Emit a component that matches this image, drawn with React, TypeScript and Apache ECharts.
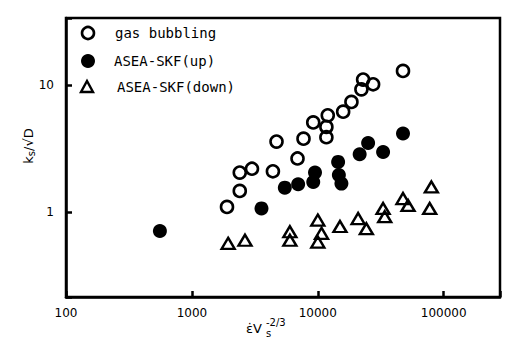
import React, { useEffect, useRef } from 'react';
import * as echarts from 'echarts';

const xTickLabels = ['100', '1000', '10000', '100000'];
const yTickLabels = ['1', '10'];

const seriesNames = ['gas bubbling', 'ASEA-SKF(up)', 'ASEA-SKF(down)'];

const gasBubbling: [number, number][] = [
  [1900, 1.1], [2400, 1.47], [2400, 2.05], [3000, 2.2], [4400, 2.1],
  [4700, 3.6], [6900, 2.65], [7700, 3.8], [9200, 5.1], [11700, 3.9],
  [11700, 4.7], [12000, 5.8], [15900, 6.2], [18500, 7.4], [22200, 9.3],
  [22900, 11.1], [27500, 10.2], [47500, 13.0],
];

const aseaUp: [number, number][] = [
  [557, 0.71], [3570, 1.07], [5470, 1.56], [6980, 1.66], [9200, 1.73],
  [9500, 2.05], [14500, 2.49], [14700, 1.96], [15400, 1.68], [21500, 2.86],
  [25100, 3.51], [33000, 2.98], [47500, 4.17],
];

const aseaDown: [number, number][] = [
  [1940, 0.567], [2640, 0.6], [6000, 0.7], [6000, 0.6], [10000, 0.865],
  [10700, 0.68], [10000, 0.58], [15000, 0.77], [20900, 0.89], [24300, 0.74],
  [33000, 1.07], [34000, 0.92], [47500, 1.28], [52100, 1.13], [79800, 1.58],
  [77400, 1.07],
];

const isPow10Label = (v: number, labels: string[]) => {
  const l = Math.log10(v);
  if (Math.abs(l - Math.round(l)) > 1e-6) return '';
  const s = String(Math.round(Math.pow(10, Math.round(l))));
  return labels.includes(s) ? s : '';
};

export default function App() {
  const ref = useRef<HTMLDivElement>(null);
  useEffect(() => {
    if (!ref.current) return;
    const chart = echarts.init(ref.current, undefined, { renderer: 'svg' });
    const mono = 'DejaVu Sans Mono';
    const sans = 'DejaVu Sans';
    chart.setOption({
      animation: false,
      backgroundColor: '#fff',
      grid: {
        left: 66, right: 6, top: 18, bottom: 43,
        show: true, borderColor: '#000', borderWidth: 2.5,
      },
      xAxis: {
        type: 'log', logBase: 10, min: 100, max: 280000,
        axisLine: { show: true, lineStyle: { color: '#000', width: 2.5 } },
        axisTick: { show: true, inside: true, length: 6, lineStyle: { color: '#000', width: 2.5 } },
        minorTick: { show: false },
        splitLine: { show: false },
        axisLabel: {
          color: '#000', fontSize: 12, fontFamily: sans, margin: 10,
          formatter: (v: number) => isPow10Label(v, xTickLabels),
        },
      },
      yAxis: {
        type: 'log', logBase: 10, min: 0.214, max: 34,
        axisLine: { show: true, lineStyle: { color: '#000', width: 2.5 } },
        axisTick: { show: true, inside: true, length: 6, lineStyle: { color: '#000', width: 2.5 } },
        minorTick: { show: false },
        splitLine: { show: false },
        axisLabel: {
          color: '#000', fontSize: 12, fontFamily: sans, margin: 12,
          formatter: (v: number) => isPow10Label(v, yTickLabels),
        },
      },
      series: [
        {
          name: seriesNames[0], type: 'scatter', data: gasBubbling,
          symbol: 'circle', symbolSize: 12,
          itemStyle: { color: 'transparent', borderColor: '#000', borderWidth: 2.6, opacity: 1 },
        },
        {
          name: seriesNames[1], type: 'scatter', data: aseaUp,
          symbol: 'circle', symbolSize: 14,
          itemStyle: { color: '#000', opacity: 1 },
        },
        {
          name: seriesNames[2], type: 'scatter', data: aseaDown,
          symbol: 'triangle', symbolSize: [13, 11],
          itemStyle: { color: 'transparent', borderColor: '#000', borderWidth: 2.4, opacity: 1 },
        },
      ],
      graphic: [
        { type: 'circle', shape: { cx: 88, cy: 33, r: 6 }, style: { fill: 'none', stroke: '#000', lineWidth: 2.6 } },
        { type: 'circle', shape: { cx: 88, cy: 61, r: 7 }, style: { fill: '#000' } },
        { type: 'polygon', shape: { points: [[81, 92], [93, 92], [87, 81]] }, style: { fill: 'none', stroke: '#000', lineWidth: 2.4 } },
        { type: 'text', x: 115, y: 33, style: { text: seriesNames[0], font: `14px "${mono}"`, fill: '#000', verticalAlign: 'middle' } },
        { type: 'text', x: 114, y: 61, style: { text: seriesNames[1], font: `14px "${mono}"`, fill: '#000', verticalAlign: 'middle' } },
        { type: 'text', x: 117, y: 87, style: { text: seriesNames[2], font: `14px "${mono}"`, fill: '#000', verticalAlign: 'middle' } },
        // x axis name
        { type: 'text', x: 246, y: 328, style: { text: 'ε̇V', font: `13px "${sans}"`, fill: '#000', verticalAlign: 'middle' } },
        { type: 'text', x: 266, y: 322, style: { text: '-2/3', font: `10px "${sans}"`, fill: '#000', verticalAlign: 'middle' } },
        { type: 'text', x: 266, y: 333, style: { text: 's', font: `10px "${sans}"`, fill: '#000', verticalAlign: 'middle' } },
        // y axis name
        {
          type: 'text', x: 28, y: 146, rotation: Math.PI / 2,
          style: {
            text: '{k|k}{s|s}{k|/√D}', fill: '#000', align: 'center', verticalAlign: 'middle',
            rich: {
              k: { fontSize: 13, fontFamily: sans, fill: '#000' },
              s: { fontSize: 10, fontFamily: sans, fill: '#000', verticalAlign: 'bottom', padding: [6, 0, 0, 0] },
            },
          },
        },
      ],
    });
    return () => chart.dispose();
  }, []);
  return <div ref={ref} style={{ position: 'fixed', left: 0, top: 0, width: 506, height: 340 }} />;
}
